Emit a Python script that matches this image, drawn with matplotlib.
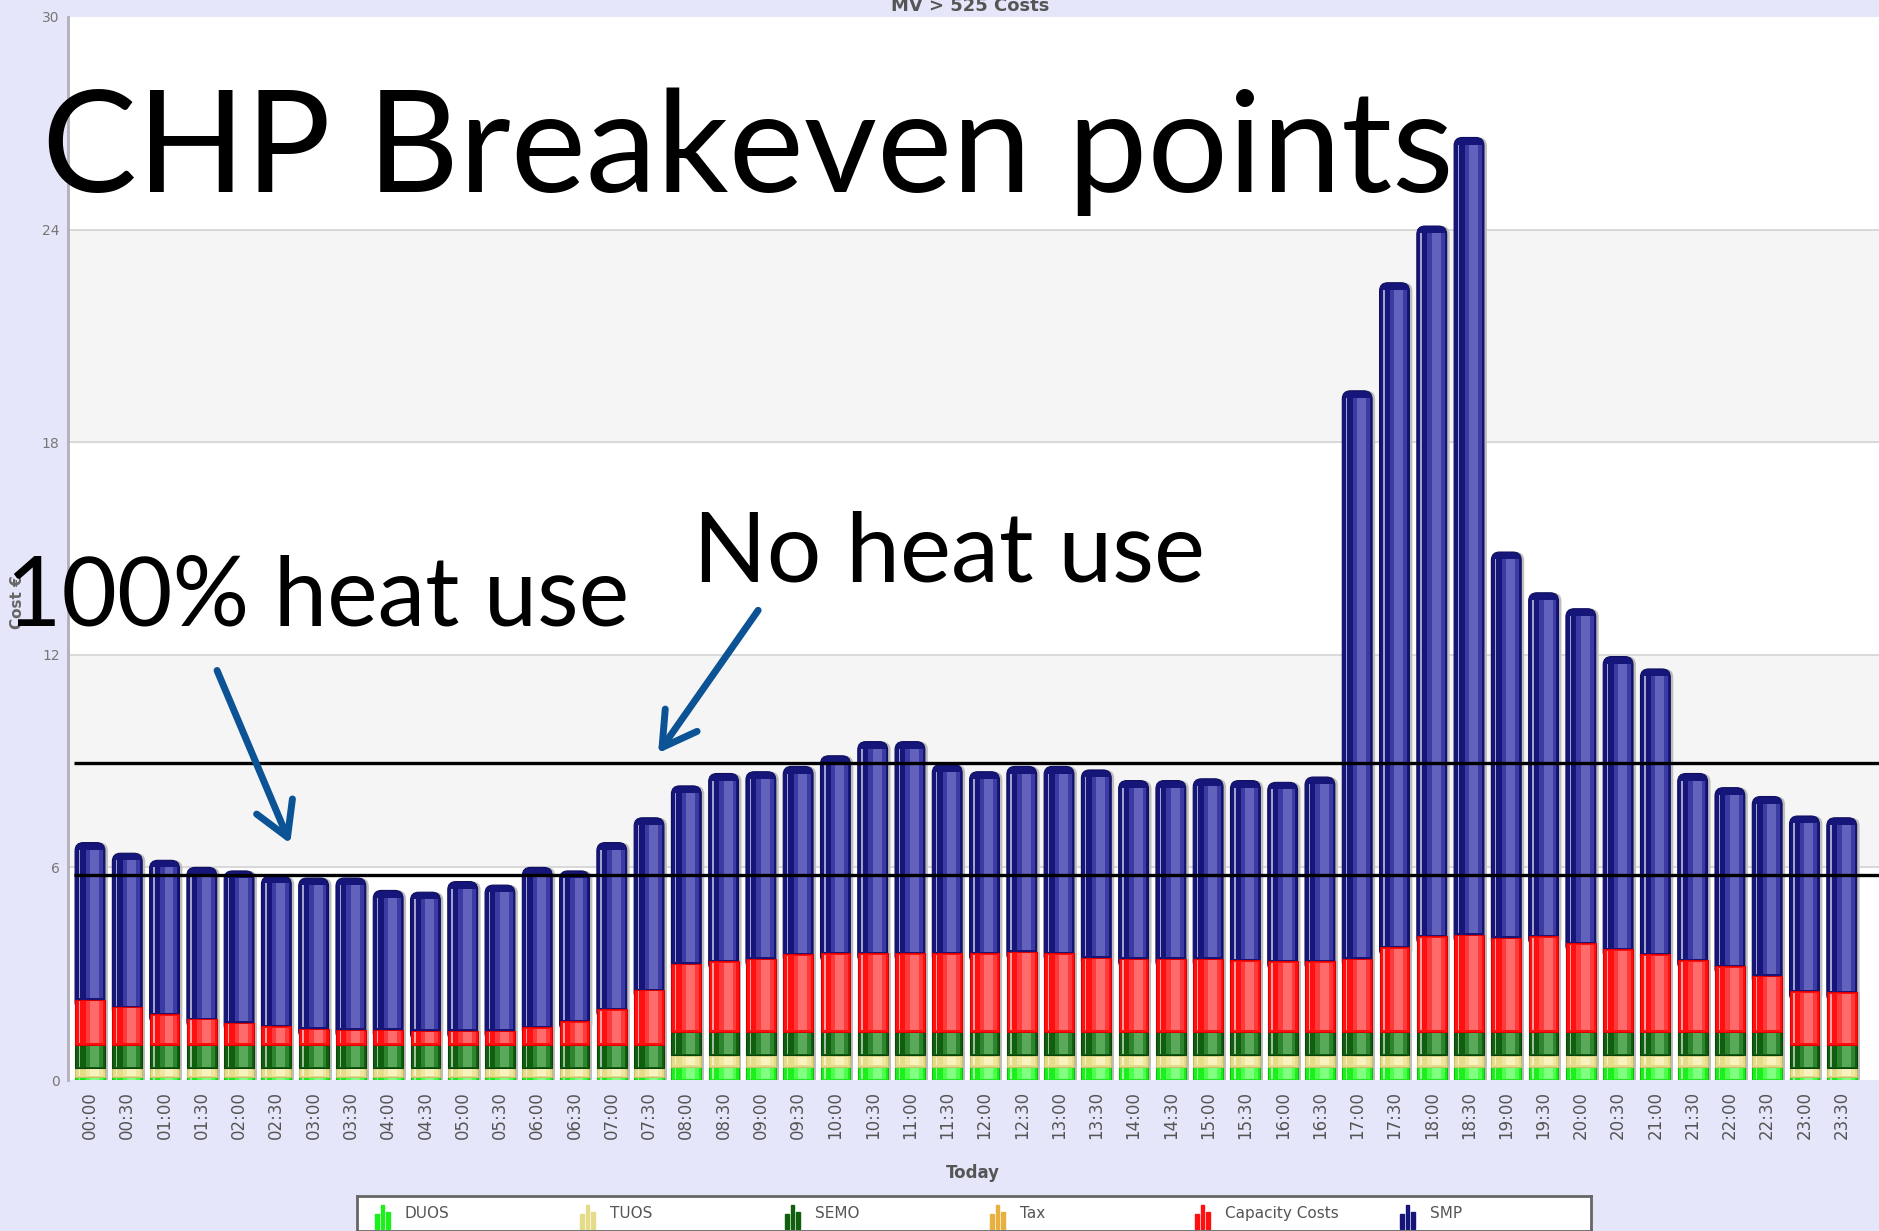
import numpy as np
import matplotlib.pyplot as plt
from matplotlib.patches import Rectangle, FancyBboxPatch

W, H = 1879, 1231

times = [f"{h:02d}:{m:02d}" for h in range(24) for m in (0, 30)]

duos = [0.08] * 16 + [0.38] * 30 + [0.08] * 2
tuos = [0.26] * 16 + [0.32] * 30 + [0.26] * 2
semo = [0.66] * 48
tax = [0.0] * 48
capacity = [1.27, 1.06, 0.86, 0.72, 0.62, 0.52, 0.45, 0.42, 0.42, 0.39, 0.39, 0.39,
            0.49, 0.66, 1.00, 1.54, 1.92, 1.99, 2.06, 2.19, 2.22, 2.22, 2.22, 2.22,
            2.22, 2.26, 2.22, 2.09, 2.06, 2.06, 2.06, 2.02, 1.99, 1.99, 2.06, 2.39,
            2.70, 2.74, 2.66, 2.70, 2.50, 2.33, 2.19, 2.02, 1.85, 1.58, 1.50, 1.47]
smp = [4.43, 4.34, 4.34, 4.28, 4.28, 4.23, 4.25, 4.28, 3.93, 3.91, 4.21, 4.11,
       4.51, 4.24, 4.70, 4.86, 5.02, 5.30, 5.28, 5.30, 5.57, 5.97, 5.97, 5.32,
       5.12, 5.23, 5.27, 5.30, 5.03, 5.03, 5.08, 5.07, 5.05, 5.20, 16.03, 18.75,
       20.04, 22.50, 10.88, 9.69, 9.44, 8.26, 8.05, 5.27, 5.04, 5.06, 4.95, 4.93]

series_names = ['DUOS', 'TUOS', 'SEMO', 'Tax', 'Capacity Costs', 'SMP']
series_values = [duos, tuos, semo, tax, capacity, smp]
# dark, mid, light, edge
series_colors = [('#1cf01c', '#4cff4c', '#80ff80', '#10c010'),
                 ('#e5dc8a', '#efe7a0', '#f8f2bf', '#c8bf6a'),
                 ('#0f5f0f', '#2f852f', '#5aa85a', '#0a420a'),
                 ('#e8b040', '#f0c060', '#f6d080', '#c08a20'),
                 ('#ff1010', '#ff3a3a', '#ff6a6a', '#dd0000'),
                 ('#16167a', '#3b3ba3', '#6262bd', '#0e0e5e')]

breakeven_no_heat = 8.95
breakeven_full_heat = 5.78

fig = plt.figure(figsize=(W / 100, H / 100), dpi=100)
fig.patch.set_facecolor('#e6e6fa')

ax = fig.add_axes([68 / W, 1 - 1080 / H, 1 - 68 / W, (1080 - 17) / H])
ax.set_facecolor('white')
x = np.arange(len(times))
ax.set_xlim(-0.59, 48.0)
ax.set_ylim(0, 30)

# alternating bands and grid
for lo in (6, 18):
    ax.axhspan(lo, lo + 6, color='#f5f5f5', zorder=0)
for g in (6, 12, 18, 24):
    ax.axhline(g, color='#d4d4d4', lw=1.2, zorder=1)

w = 0.8
# (left fraction, right fraction, colour index) of the glossy strips
strips = [(0.35, 0.93, 1), (0.5, 0.8, 2)]
aspect = 37.27 / 35.44

bottom = np.zeros(len(times))
for k, (vals, cols) in enumerate(zip(series_values, series_colors)):
    dark, mid, light, edge = cols
    v = np.array(vals)
    is_top = k == len(series_values) - 1
    for i in np.nonzero(v > 0)[0]:
        b, h = bottom[i], v[i]
        left = x[i] - w / 2
        mg = min(0.04, h * 0.15)
        if is_top:
            # rounded top, the lower part is hidden under the segment below
            for dx, fc, ec, z in ((0.08, '#bdbdbd', 'none', 2.0),
                                  (0.0, dark, edge, 2.5)):
                ax.add_patch(FancyBboxPatch((left + dx, b - 0.3), w, h + 0.3,
                                            boxstyle='round,pad=0,rounding_size=0.22',
                                            mutation_aspect=aspect, fc=fc, ec=ec,
                                            lw=0.8, zorder=z))
            top_cut = 0.2
        else:
            ax.add_patch(Rectangle((left + 0.08, b), w, h, fc='#bdbdbd', lw=0,
                                   zorder=2))
            ax.add_patch(Rectangle((left, b), w, h, fc=dark, ec=edge, lw=0.8,
                                   zorder=3))
            top_cut = mg
        for f0, f1, ci in strips:
            ax.add_patch(Rectangle((left + f0 * w, b + mg), (f1 - f0) * w,
                                   h - mg - top_cut, fc=cols[ci], lw=0, zorder=4))
        ax.add_patch(Rectangle((left + 0.12 * w, b + mg), 0.05 * w,
                               h - mg - top_cut, fc='white', alpha=0.6, lw=0,
                               zorder=5))
    bottom += v

ax.hlines([breakeven_no_heat, breakeven_full_heat], -0.43, 48.0, color='black',
          lw=2.4, zorder=6)

ax.set_xticks(x)
ax.set_xticklabels(times, rotation=90, fontsize=12, color='#555555')
ax.set_yticks([0, 6, 12, 18, 24, 30])
ax.tick_params(axis='x', length=0, pad=8)
ax.tick_params(axis='y', length=0, pad=6, labelsize=10, labelcolor='#777777')
for s in ('right', 'bottom', 'top'):
    ax.spines[s].set_visible(False)
ax.spines['left'].set_color('#b0b0b8')
ax.spines['left'].set_linewidth(2)

fig.text(973 / W, 1 - 1173 / H, 'Today', ha='center', va='center', fontsize=12,
         fontweight='bold', color='#555555')
fig.text(17 / W, 1 - 602 / H, 'Cost €', rotation=90, ha='center', va='center',
         fontsize=11, fontweight='bold', color='#666666')
fig.text(970 / W, 0.995, 'MV > 525 Costs', ha='center', va='center', fontsize=13,
         fontweight='bold', color='#555555')

# legend box
lax = fig.add_axes([357 / W, 0, (1591 - 357) / W, (1231 - 1196) / H])
lax.set_xlim(0, 1)
lax.set_ylim(0, 1)
lax.set_xticks([])
lax.set_yticks([])
lax.set_facecolor('white')
for s in lax.spines.values():
    s.set_color('#666666')
    s.set_linewidth(2)
step = 205 / 1234
for i, (name, cols) in enumerate(zip(series_names, series_colors)):
    x0 = 18 / 1234 + i * step
    for dx, hh in ((0.0, 0.45), (0.0045, 0.7), (0.009, 0.5)):
        lax.add_patch(Rectangle((x0 + dx, 0.05), 0.003, hh, color=cols[0]))
    lax.text(x0 + 30 / 1234, 0.5, name, va='center', ha='left', fontsize=11,
             color='#555555')

# annotations
blue = '#0b5394'
arrow = '->,head_length=0.6,head_width=0.35'
ax.annotate('', xy=(5.4, 6.6), xytext=(3.38, 11.63),
            arrowprops=dict(arrowstyle=arrow, color=blue, lw=5, mutation_scale=40),
            zorder=10)
ax.annotate('', xy=(15.2, 9.16), xytext=(17.97, 13.32),
            arrowprops=dict(arrowstyle=arrow, color=blue, lw=5, mutation_scale=40),
            zorder=10)

fig.canvas.draw()
renderer = fig.canvas.get_renderer()


def big_text(s, x_px, base_px, width_px):
    t = fig.text(x_px / W, 1 - base_px / H, s, fontsize=60, family='Lato',
                 va='baseline', ha='left', color='black', zorder=10)
    bb = t.get_window_extent(renderer)
    t.set_fontsize(60 * width_px / bb.width)
    return t


big_text('CHP Breakeven points', 42, 192, 1414)
big_text('100% heat use', 6, 625, 623)
big_text('No heat use', 693, 581, 512)

fig.savefig('out.png', dpi=100, facecolor=fig.get_facecolor())
